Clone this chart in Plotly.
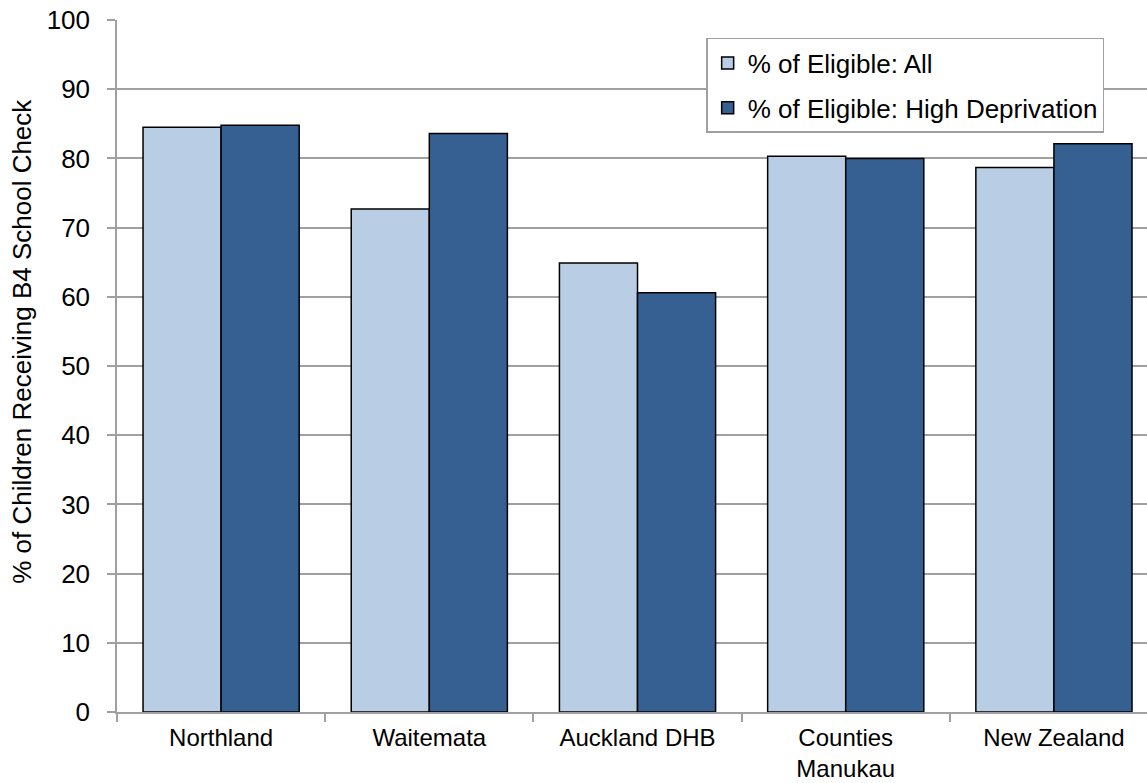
import plotly.graph_objects as go

categories = ["Northland", "Waitemata", "Auckland DHB", "Counties<br>Manukau", "New Zealand"]
series_names = ["% of Eligible: All", "% of Eligible: High Deprivation"]
all_values = [84.5, 72.7, 64.9, 80.3, 78.7]
high_dep_values = [84.8, 83.6, 60.6, 80.0, 82.1]
y_ticks = [0, 10, 20, 30, 40, 50, 60, 70, 80, 90, 100]
y_title = "% of Children Receiving B4 School Check"

light = "#B9CDE5"
dark = "#376092"
grid = "#A0A0A0"
font_family = "Liberation Sans, Arial, sans-serif"
FS = 26

fig = go.Figure()
fig.add_trace(go.Bar(x=list(range(len(categories))), y=all_values, name=series_names[0],
                     legendgroup="a",
                     marker=dict(color=light, line=dict(color="black", width=1.5))))
fig.add_trace(go.Bar(x=list(range(len(categories))), y=high_dep_values, name=series_names[1],
                     legendgroup="b",
                     marker=dict(color=dark, line=dict(color="black", width=1.5))))

fig.update_layout(
    width=1147, height=783,
    margin=dict(l=117, r=0, t=20, b=71),
    paper_bgcolor="white", plot_bgcolor="white",
    barmode="group", bargap=0.25, bargroupgap=0,
    font=dict(family=font_family, size=FS, color="black"),
    legend=dict(x=0.572, y=0.974, xanchor="left", yanchor="top",
                bordercolor=grid, borderwidth=1.5, bgcolor="white",
                font=dict(size=FS), traceorder="grouped", tracegroupgap=8),
    showlegend=True,
    annotations=[dict(text=y_title, textangle=-90, xref="paper", yref="paper",
                      x=-0.0922, y=0.535, xanchor="center", yanchor="middle",
                      showarrow=False, font=dict(size=FS))],
)
fig.update_xaxes(
    tickmode="array", tickvals=list(range(len(categories))), ticktext=categories,
    range=[-0.5, 4.447], showgrid=False, showline=True, linecolor=grid, linewidth=1.5,
    ticks="outside", ticklen=3, tickcolor="rgba(0,0,0,0)", ticklabelstandoff=0,
    tickfont=dict(size=24), automargin=False,
)
fig.update_xaxes(minor=dict(tickmode="array", tickvals=[-0.5, 0.5, 1.5, 2.5, 3.5],
                            ticks="outside", ticklen=8, tickcolor=grid, tickwidth=1.5))
fig.update_yaxes(
    range=[0, 100], tickmode="array", tickvals=y_ticks,
    showgrid=True, gridcolor=grid, gridwidth=1.5,
    showline=True, linecolor=grid, linewidth=1.5,
    ticks="outside", ticklen=8, tickcolor=grid, tickwidth=1.5, ticklabelstandoff=12,
    tickfont=dict(size=FS), automargin=False,
    zeroline=False,
)
fig.write_html("out.html", config={"displayModeBar": False},
               post_script="document.body.style.margin='0';")
